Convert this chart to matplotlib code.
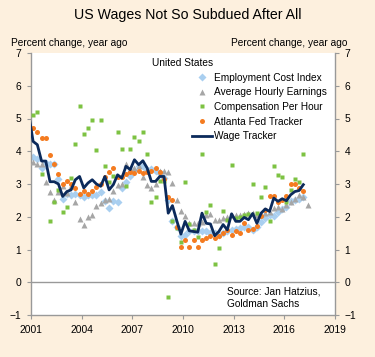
import numpy as np
import matplotlib
matplotlib.use("Agg")
import matplotlib.pyplot as plt

plt.rcParams['font.family'] = ['Liberation Sans', 'DejaVu Sans']

# quarterly data, plotted at mid-quarter
years_q = np.arange(2001.125, 2017.2, 0.25)          # 2001Q1 .. 2017Q1
years_ahe = np.arange(2001.125, 2017.45, 0.25)       # 2001Q1 .. 2017Q2
years_wage = np.arange(2000.875, 2017.2, 0.25)       # 2000Q4 .. 2017Q1

eci = [3.82, 3.75, 3.5, 3.65,
       3.6, 3.6, 3.15, 2.55,
       2.7, 2.67, 2.7, 2.65,
       2.6, 2.65, 2.65, 2.65,
       2.77, 2.47, 2.26, 2.47,
       2.45, 2.88, 3.05, 3.23,
       3.44, 3.54, 3.56, 3.44,
       3.45, 3.4, 3.33, 3.18,
       2.5, 1.86, 1.7, 1.4,
       1.45, 1.55, 1.55, 1.55,
       1.57, 1.55, 1.5, 1.5,
       1.45, 1.5, 1.55, 1.6,
       1.62, 1.65, 1.7, 1.7,
       1.6, 1.7, 1.84, 1.96,
       2.06, 2.01, 2.16, 2.24,
       2.3, 2.47, 2.52, 2.55,
       2.6]

ahe = [3.66, 3.6, 3.62, 3.06,
       2.75, 2.5, 2.75, 2.95,
       2.72, 2.95, 2.45, 1.93,
       1.74, 1.98, 2.06, 2.33,
       2.42, 2.5, 2.55, 2.8,
       2.98, 3.0, 3.61, 3.45,
       3.49, 3.55, 3.2, 2.98,
       2.88, 3.0, 3.4, 3.4,
       3.38, 3.03, 2.5, 2.19,
       2.01, 1.81, 1.81, 1.81,
       1.85, 2.06, 2.08, 1.91,
       1.91, 1.96, 2.0, 2.05,
       2.06, 2.06, 2.08, 2.11,
       2.11, 2.05, 2.08, 2.1,
       2.15, 2.26, 2.29, 2.25,
       2.37, 2.45, 2.55, 2.67,
       2.59, 2.37]

cph = [5.11, 5.21, 3.31, np.nan,
       1.86, 2.46, 2.83, 2.15,
       2.31, 3.19, 4.23, 5.37,
       4.53, 4.71, 4.96, 4.03,
       4.96, 3.56, 3.05, 3.23,
       4.6, 4.07, 2.93, 4.07,
       4.42, 4.32, 4.6, 3.92,
       2.45, 2.6, 3.1, 3.1,
       -0.46, 1.86, 1.67, 1.22,
       3.06, 1.78, 1.6, 1.37,
       3.92, 2.16, 2.37, 0.56,
       1.04, 2.19, 1.9, 3.59,
       1.95, 2.0, 2.06, 2.08,
       3.0, 2.1, 2.59, 2.92,
       1.86, 3.56, 3.26, 3.21,
       2.45, 2.82, 3.16, 3.05,
       3.91]

atlanta = [4.71, 4.59, 4.4, 4.4,
           3.89, 3.6, 3.3, 3.0,
           3.1, 3.0, 2.88, 2.7,
           2.8, 2.7, 2.78, 2.9,
           3.0, 3.2, 3.38, 3.49,
           3.21, 3.2, 3.3, 3.38,
           3.35, 3.41, 3.35, 3.38,
           3.41, 3.5, 3.38, 3.15,
           2.6, 2.5, 1.69, 1.09,
           1.3, 1.09, 1.3, 1.09,
           1.3, 1.35, 1.4, 1.35,
           1.4, 1.5, 1.6, 1.45,
           1.55, 1.5, 1.8, 1.6,
           1.62, 1.73, 2.01, 2.2,
           2.62, 2.62, 2.45, 2.5,
           2.62, 3.0, 3.0, 2.87,
           2.79]

wage = [5.1,
        4.3, 4.2, 3.7, 3.7,
        3.07, 3.07, 3.0, 2.62,
        2.77, 2.82, 3.13, 3.23,
        2.88, 3.03, 3.13, 3.0,
        2.93, 3.23, 2.82, 2.98,
        3.28, 3.18, 3.54, 3.44,
        3.74, 3.59, 3.71, 3.49,
        3.08, 3.08, 3.23, 3.23,
        2.11, 2.34, 1.89, 1.47,
        1.86, 1.57, 1.55, 1.53,
        2.11, 1.8, 1.78, 1.42,
        1.55, 1.76, 1.6, 2.09,
        1.86, 1.86, 1.98, 1.91,
        2.1, 1.8, 2.11, 2.24,
        2.16, 2.57, 2.47, 2.55,
        2.49, 2.67, 2.77, 2.8,
        2.98]

xticks = [2001, 2004, 2007, 2010, 2013, 2016, 2019]
yticks = [-1, 0, 1, 2, 3, 4, 5, 6, 7]

bg = '#FDF0DE'
fig = plt.figure(figsize=(3.75, 3.57), dpi=100, facecolor=bg)
ax = fig.add_axes([31/375, 1-315/357, 304/375, 262/357])
ax.set_facecolor('white')

ax.axhline(0, color='#999999', lw=1.0, zorder=1)

ax.plot(years_q, eci, ls='none', marker='D', ms=4.2, color='#A9CFF0', mec='none',
        label='Employment Cost Index', zorder=2)
ax.plot(years_ahe, ahe, ls='none', marker='^', ms=4.5, color='#A6A6A6', mec='none',
        label='Average Hourly Earnings', zorder=3)
ax.plot(years_q, cph, ls='none', marker='s', ms=3.4, color='#7DC242', mec='none',
        label='Compensation Per Hour', zorder=4)
ax.plot(years_q, atlanta, ls='none', marker='o', ms=3.6, color='#F47B20', mec='none',
        label='Atlanta Fed Tracker', zorder=5)
ax.plot(years_wage, wage, color='#0B2A5B', lw=2.0, label='Wage Tracker', zorder=6)

ax.set_xlim(2001, 2019)
ax.set_ylim(-1, 7)
ax.set_xticks(xticks)
ax.set_yticks(yticks)
ax.tick_params(axis='both', labelsize=7.4, colors='#999999', labelcolor='black',
               length=3, width=0.8)
ax.tick_params(axis='y', right=True, labelright=True, pad=4)
ax.tick_params(axis='x', pad=4)

for s in ['left', 'right', 'bottom']:
    ax.spines[s].set_color('#999999')
    ax.spines[s].set_linewidth(1.0)
ax.spines['top'].set_visible(False)

leg = ax.legend(loc='upper left', bbox_to_anchor=(0.529, 0.925), frameon=False,
                fontsize=7.3, borderpad=0, handlelength=2.0, handletextpad=0.15,
                labelspacing=0.46, borderaxespad=0)

ax.text(0.398, 0.962, 'United States', transform=ax.transAxes, fontsize=7.3,
        ha='left', va='center')
ax.text(0.645, 0.107, 'Source: Jan Hatzius,\nGoldman Sachs', transform=ax.transAxes,
        fontsize=7.3, ha='left', va='top', linespacing=1.3)

fig.text(0.5, 1-15/357, 'US Wages Not So Subdued After All', ha='center', va='center',
         fontsize=10.2)
fig.text(11/375, 1-43/357, 'Percent change, year ago', ha='left', va='center', fontsize=7.3)
fig.text(347/375, 1-43/357, 'Percent change, year ago', ha='right', va='center', fontsize=7.3)

fig.savefig('out.png', dpi=100, facecolor=bg)
